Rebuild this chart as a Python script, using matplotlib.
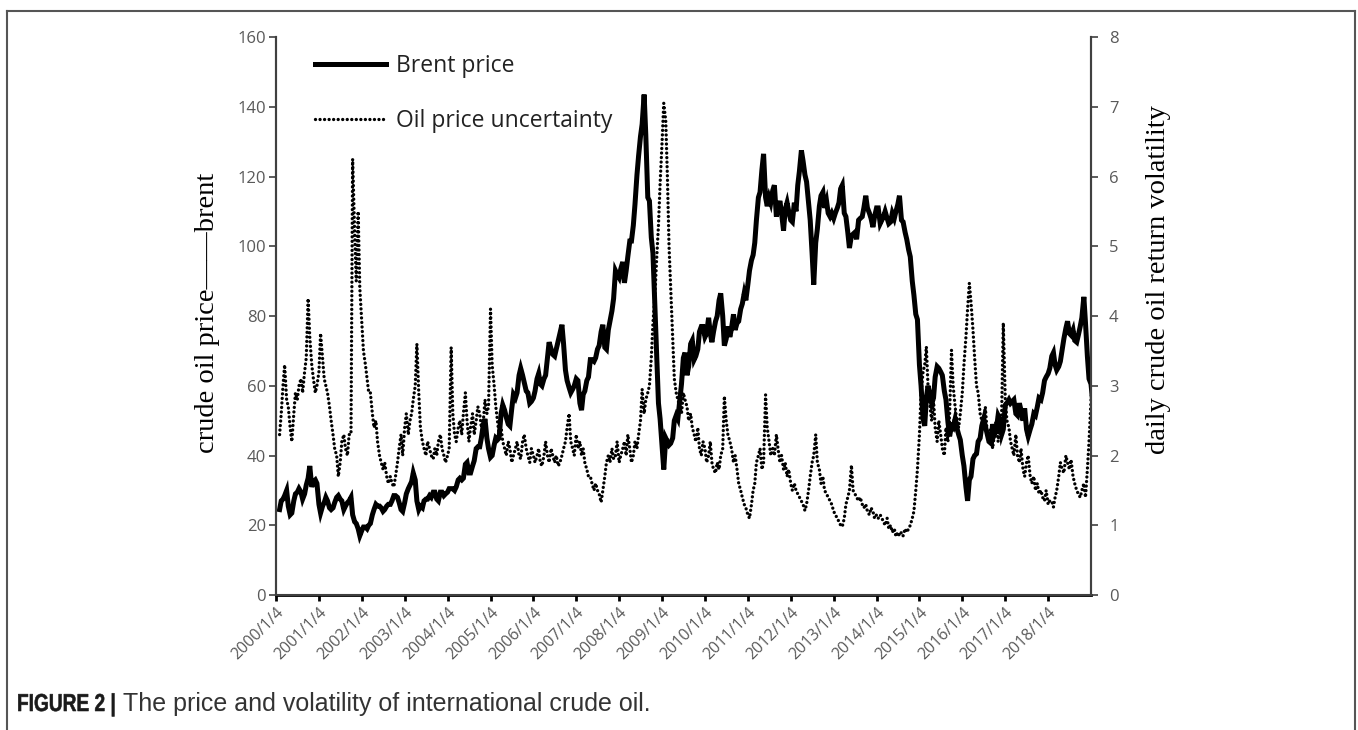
import numpy as np
import pandas as pd
import matplotlib
matplotlib.use('Agg')
import matplotlib.pyplot as plt
from matplotlib.lines import Line2D
from matplotlib.textpath import TextPath
from matplotlib.patches import PathPatch
from matplotlib.font_manager import FontProperties
from matplotlib.transforms import Affine2D

# ---------------------------------------------------------------
# data: half-monthly readings, 2000/1 .. 2018/12 (24 per year)
# ---------------------------------------------------------------
brent = [
    # 2000
    24.5, 27.0, 27.5, 28.5, 30.0, 25.5, 23.0, 23.5, 27.0, 29.0, 29.5, 30.5,
    29.5, 27.5, 29.0, 31.5, 33.5, 37.0, 31.0, 32.5, 33.0, 32.0, 26.0, 23.5,
    # 2001
    25.5, 26.5, 28.0, 27.0, 25.0, 24.5, 25.0, 26.5, 28.0, 28.5, 27.5, 27.0,
    24.5, 25.5, 26.5, 27.0, 28.0, 23.0, 21.0, 20.5, 19.0, 17.0, 18.5, 19.5,
    # 2002
    19.5, 19.0, 20.0, 20.5, 23.0, 24.5, 26.0, 25.5, 25.5, 25.0, 24.0, 24.5,
    25.5, 26.0, 26.0, 27.0, 28.5, 28.5, 28.0, 26.5, 24.5, 24.0, 26.5, 29.0,
    # 2003
    30.5, 31.5, 32.5, 35.0, 33.0, 27.0, 24.5, 25.5, 25.0, 27.0, 27.5, 27.5,
    28.5, 28.0, 29.5, 29.5, 27.5, 27.0, 29.5, 29.5, 28.5, 29.0, 29.5, 30.5,
    # 2004
    30.5, 30.5, 30.0, 31.0, 33.0, 33.5, 33.0, 33.5, 37.5, 38.0, 35.0, 35.0,
    37.0, 38.5, 42.0, 42.5, 42.5, 45.0, 49.0, 50.5, 45.0, 42.0, 39.5, 40.0,
    # 2005
    43.0, 45.0, 44.5, 45.0, 52.0, 54.5, 53.0, 51.0, 49.0, 48.5, 53.5, 57.5,
    56.5, 58.0, 63.0, 65.0, 63.0, 61.0, 58.5, 58.0, 55.0, 55.5, 56.5, 58.5,
    # 2006
    62.0, 63.5, 60.5, 60.0, 62.0, 63.0, 68.0, 72.5, 70.5, 69.0, 68.5, 70.5,
    73.0, 75.0, 77.5, 72.0, 64.5, 61.5, 59.5, 58.0, 59.0, 60.0, 62.0, 61.5,
    # 2007
    55.0, 53.0, 57.5, 58.5, 61.5, 62.5, 67.5, 67.5, 67.0, 68.0, 70.5, 71.5,
    75.5, 77.5, 71.0, 70.5, 76.0, 78.5, 81.5, 85.0, 93.0, 92.0, 91.0, 93.5,
    # 2008
    95.5, 89.5, 93.0, 97.0, 101.5, 101.5, 106.0, 112.0, 120.5, 126.0, 131.5, 135.0,
    143.5, 132.0, 114.0, 113.0, 102.5, 98.0, 82.0, 69.5, 55.0, 50.5, 42.5, 36.0,
    # 2009
    45.0, 44.0, 43.0, 43.5, 45.0, 50.0, 51.5, 50.5, 56.0, 60.5, 68.0, 69.5,
    63.0, 65.5, 72.0, 73.0, 67.5, 68.5, 70.5, 75.5, 77.0, 77.0, 74.0, 75.0,
    # 2010
    79.5, 75.0, 72.5, 75.5, 78.5, 80.0, 84.5, 86.5, 80.0, 71.5, 73.5, 77.0,
    74.0, 76.5, 80.5, 76.0, 78.0, 78.5, 82.0, 83.5, 86.5, 84.5, 89.0, 93.0,
    # 2011
    96.0, 97.5, 101.0, 107.5, 114.0, 115.5, 122.0, 126.5, 114.0, 111.5, 114.0, 112.5,
    116.0, 117.5, 108.5, 111.0, 113.0, 109.5, 104.5, 110.5, 112.5, 110.0, 107.5, 107.0,
    # 2012
    112.5, 110.0, 117.5, 121.5, 127.5, 124.5, 120.5, 118.5, 112.5, 107.5, 98.0, 89.0,
    101.0, 105.0, 111.5, 114.5, 115.5, 111.0, 113.0, 109.5, 108.5, 109.5, 108.0, 109.5,
    # 2013
    111.0, 112.5, 116.5, 117.5, 109.5, 108.5, 104.0, 99.5, 103.0, 103.5, 104.0, 102.0,
    107.5, 108.0, 108.5, 111.0, 114.5, 111.0, 109.5, 108.0, 105.5, 108.5, 111.0, 111.0,
    # 2014
    106.5, 107.5, 108.5, 110.0, 108.0, 106.5, 107.0, 109.5, 108.0, 110.0, 112.0, 114.5,
    107.5, 107.0, 104.0, 102.0, 99.0, 97.0, 90.0, 86.0, 80.5, 79.0, 66.0, 60.0,
    # 2015
    50.5, 48.5, 56.5, 60.0, 57.5, 55.0, 56.5, 62.5, 65.5, 65.0, 64.0, 63.0,
    58.5, 56.0, 49.5, 45.5, 48.5, 48.0, 50.5, 48.0, 46.0, 44.5, 40.0, 37.0,
    # 2016
    31.0, 27.0, 33.0, 34.0, 39.0, 40.0, 40.5, 44.0, 45.0, 48.5, 50.5, 48.5,
    46.0, 44.0, 43.5, 49.0, 46.0, 47.0, 51.5, 50.5, 46.0, 47.5, 54.5, 55.0,
    # 2017
    56.0, 55.0, 55.5, 56.0, 52.0, 51.5, 55.0, 53.0, 50.0, 53.5, 47.5, 45.5,
    47.5, 49.0, 52.0, 51.5, 54.0, 56.5, 56.0, 58.0, 61.5, 62.5, 63.5, 65.0,
    # 2018
    68.5, 69.5, 66.0, 64.5, 65.5, 67.0, 70.5, 73.5, 76.5, 78.5, 75.0, 74.5,
    76.0, 73.0, 72.5, 74.5, 77.0, 79.5, 85.5, 78.0, 68.5, 62.0, 60.5, 55.5,
]

uncertainty = [
    # 2000
    2.3, 2.6, 3.0, 3.3, 2.8, 2.7, 2.4, 2.2, 2.6, 2.9, 2.8, 3.0,
    3.1, 2.9, 3.2, 3.4, 4.25, 3.7, 3.3, 3.1, 2.9, 3.0, 3.2, 3.75,
    # 2001
    3.4, 3.1, 3.0, 2.9, 2.7, 2.5, 2.3, 2.1, 2.0, 1.7, 1.9, 2.2,
    2.3, 2.1, 2.0, 2.3, 2.3, 6.25, 5.2, 4.5, 5.5, 4.4, 3.9, 3.5,
    # 2002
    3.3, 3.1, 2.9, 2.9, 2.6, 2.4, 2.5, 2.2, 2.0, 1.9, 1.8, 1.9,
    1.7, 1.6, 1.7, 1.6, 1.55, 1.7, 1.9, 2.1, 2.3, 2.0, 2.4, 2.6,
    # 2003
    2.3, 2.5, 2.6, 2.8, 3.0, 3.6, 2.9, 2.4, 2.2, 2.1, 2.0, 2.2,
    2.1, 2.0, 1.95, 2.1, 2.0, 2.2, 2.3, 2.1, 2.0, 1.9, 2.0, 2.1,
    # 2004
    3.55, 2.6, 2.3, 2.2, 2.4, 2.5, 2.3, 2.6, 2.9, 2.5, 2.2, 2.4,
    2.6, 2.3, 2.5, 2.7, 2.6, 2.4, 2.5, 2.8, 2.6, 2.7, 4.1, 3.3,
    # 2005
    3.0, 2.7, 2.5, 2.3, 2.4, 2.2, 2.1, 2.0, 2.2, 2.1, 1.9, 2.0,
    2.1, 2.2, 2.0, 1.95, 2.2, 2.3, 2.1, 2.0, 1.9, 2.1, 2.0, 1.9,
    # 2006
    2.0, 2.1, 1.9, 1.85, 2.0, 2.2, 2.0, 1.9, 2.1, 2.0, 1.9, 2.0,
    1.85, 1.9, 2.0, 2.1, 2.2, 2.4, 2.6, 2.2, 2.1, 2.0, 2.3, 2.1,
    # 2007
    2.2, 2.0, 2.1, 1.9, 1.8, 1.7, 1.7, 1.6, 1.5, 1.6, 1.5, 1.45,
    1.33, 1.5, 1.7, 1.9, 2.0, 1.9, 2.1, 1.95, 2.0, 2.2, 1.9, 2.0,
    # 2008
    2.1, 2.2, 2.0, 2.3, 2.1, 1.9, 2.0, 2.2, 2.1, 2.3, 2.5, 2.95,
    2.6, 2.8, 2.9, 3.0, 3.4, 3.9, 4.3, 4.8, 5.3, 5.9, 6.5, 7.05,
    # 2009
    6.8, 6.0, 5.0, 4.4, 3.7, 3.1, 2.9, 2.8, 2.7, 2.6, 2.9, 2.8,
    2.7, 2.5, 2.6, 2.4, 2.3, 2.2, 2.4, 2.1, 2.0, 2.2, 2.1, 1.9,
    # 2010
    2.0, 2.2, 1.9, 1.8, 1.75, 1.9, 1.8, 2.0, 2.1, 2.85, 2.5, 2.3,
    2.2, 2.1, 1.9, 2.0, 1.8, 1.6, 1.5, 1.4, 1.3, 1.25, 1.15, 1.1,
    # 2011
    1.3, 1.5, 1.6, 1.9, 2.0, 2.1, 1.8, 1.9, 2.87, 2.4, 2.2, 2.0,
    2.1, 2.0, 2.3, 2.1, 1.9, 2.0, 1.8, 1.9, 1.7, 1.8, 1.6, 1.5,
    # 2012
    1.6, 1.5, 1.45, 1.4, 1.35, 1.3, 1.21, 1.3, 1.5, 1.7, 1.9, 2.0,
    2.3, 1.9, 1.8, 1.6, 1.7, 1.5, 1.45, 1.4, 1.35, 1.3, 1.2, 1.15,
    # 2013
    1.1, 1.05, 1.0, 0.98, 1.1, 1.3, 1.4, 1.5, 1.86, 1.5, 1.45, 1.4,
    1.35, 1.4, 1.3, 1.25, 1.3, 1.2, 1.15, 1.25, 1.2, 1.1, 1.15, 1.1,
    # 2014
    1.15, 1.1, 1.05, 1.0, 1.1, 0.95, 1.0, 0.9, 0.95, 0.84, 0.9, 0.85,
    0.9, 0.85, 0.95, 0.9, 0.95, 1.0, 1.1, 1.2, 1.5, 1.8, 2.3, 2.9,
    # 2015
    3.2, 3.3, 3.56, 3.0, 2.7, 2.5, 2.8, 2.4, 2.2, 2.5, 2.3, 2.1,
    2.0, 2.4, 2.2, 2.6, 3.51, 3.0, 2.7, 2.5, 2.4, 2.6, 2.9, 3.3,
    # 2016
    3.7, 4.1, 4.47, 4.2, 3.8, 3.4, 3.0, 2.9, 2.6, 2.5, 2.4, 2.7,
    2.3, 2.2, 2.4, 2.1, 2.3, 2.5, 2.2, 2.4, 2.6, 3.9, 2.8, 2.5,
    # 2017
    2.4, 2.2, 2.1, 2.0, 2.3, 2.0, 1.9, 2.1, 1.8, 1.7, 1.9, 2.0,
    1.7, 1.6, 1.7, 1.5, 1.6, 1.45, 1.5, 1.4, 1.35, 1.5, 1.3, 1.35,
    # 2018
    1.35, 1.26, 1.4, 1.5, 1.7, 1.9, 1.8, 1.75, 2.0, 1.9, 1.8, 1.94,
    1.7, 1.6, 1.5, 1.45, 1.4, 1.5, 1.6, 1.4, 1.8, 2.2, 2.8, 3.1,
]

years = list(range(2000, 2019))
tick_labels = [f'{y}/1/4' for y in years]

# half-month dates starting at the first trading day
months = pd.date_range('2000-01-04', periods=len(brent) // 2, freq='MS')
dates = []
for m in months:
    dates.append(m + pd.Timedelta(days=3))
    dates.append(m + pd.Timedelta(days=17))

# ---------------------------------------------------------------
# plot
# ---------------------------------------------------------------
tick_grey = '#595959'
spine_grey = '#404040'
tick_font = 'Open Sans'
dots = (0, (0.01, 1.35))

fig = plt.figure(figsize=(13.58, 7.30), dpi=100)
ax = fig.add_axes([0.2032, 0.1849, 0.6002, 0.7644])
ax2 = ax.twinx()

l1, = ax.plot(dates, brent, color='black', lw=3.6, solid_joinstyle='miter',
              label='Brent price', zorder=3)
l2, = ax2.plot(dates, uncertainty, color='black', lw=2.4, linestyle=dots,
               dash_capstyle='round', label='Oil price uncertainty')

ax.set_xlim(pd.Timestamp('2000-01-04'), pd.Timestamp('2019-01-04'))
ax.set_ylim(0, 160)
ax2.set_ylim(0, 8)
ax.set_yticks(range(0, 161, 20))
ax2.set_yticks(range(0, 9))

ax.set_xticks([pd.Timestamp(f'{y}-01-04') for y in years])
ax.set_xticklabels(tick_labels, rotation=45, ha='right', rotation_mode='anchor',
                   fontsize=11.5, color=tick_grey, family=tick_font)

for a in (ax, ax2):
    a.spines['top'].set_visible(False)
    for s in a.spines.values():
        s.set_color(spine_grey)
        s.set_linewidth(1.5)
    a.tick_params(axis='y', length=5, width=1.2, color=spine_grey, labelcolor=tick_grey,
                  labelsize=12)
    for lab in a.get_yticklabels():
        lab.set_family(tick_font)
ax.spines['bottom'].set_color('black')
ax.spines['bottom'].set_linewidth(2)
ax.tick_params(axis='x', length=4, width=2, color='black', pad=3)
ax.tick_params(axis='y', pad=2)
ax2.tick_params(axis='y', pad=8)

ax.set_ylabel('crude oil price——brent', family='Liberation Serif', fontsize=20.5, labelpad=13)
ax2.set_ylabel('daily crude oil return volatility', family='Liberation Serif', fontsize=20.5,
               labelpad=20)
ax.yaxis.label.set_y(0.505)
ax2.yaxis.label.set_y(0.565)

leg = ax.legend(handles=[l1, l2], loc='upper left', bbox_to_anchor=(0.023, 1.006),
                frameon=False, handlelength=3.1, handletextpad=0.4, labelspacing=1.35,
                prop={'family': tick_font, 'size': 16.5})
for t in leg.get_texts():
    t.set_color('#222222')

# figure frame (open at the bottom) and caption
frame_kw = dict(color='#555555', lw=1.5, transform=fig.transFigure)
fig.add_artist(Line2D([7 / 1358, 7 / 1358], [0, 1 - 11 / 730], **frame_kw))
fig.add_artist(Line2D([1355 / 1358, 1355 / 1358], [0, 1 - 11 / 730], **frame_kw))
fig.add_artist(Line2D([7 / 1358, 1355 / 1358], [1 - 11 / 730, 1 - 11 / 730], **frame_kw))

# bold condensed lead-in, drawn as a horizontally squeezed text path
cap_px = 24.5
base_px = 19
lead = TextPath((0, 0), 'FIGURE 2 |', size=cap_px,
                prop=FontProperties(family='Liberation Sans', weight='bold'))
lead_tr = Affine2D().scale(0.78, 1.0).translate(17, base_px)
fig.add_artist(PathPatch(lead, transform=lead_tr, facecolor='#1a1a1a', edgecolor='#1a1a1a',
                         lw=0.4))
fig.text(123 / 1358, base_px / 730, 'The price and volatility of international crude oil.',
         fontsize=18, family='Liberation Sans', color='#333333', va='baseline')

fig.savefig('out.png', dpi=100)
